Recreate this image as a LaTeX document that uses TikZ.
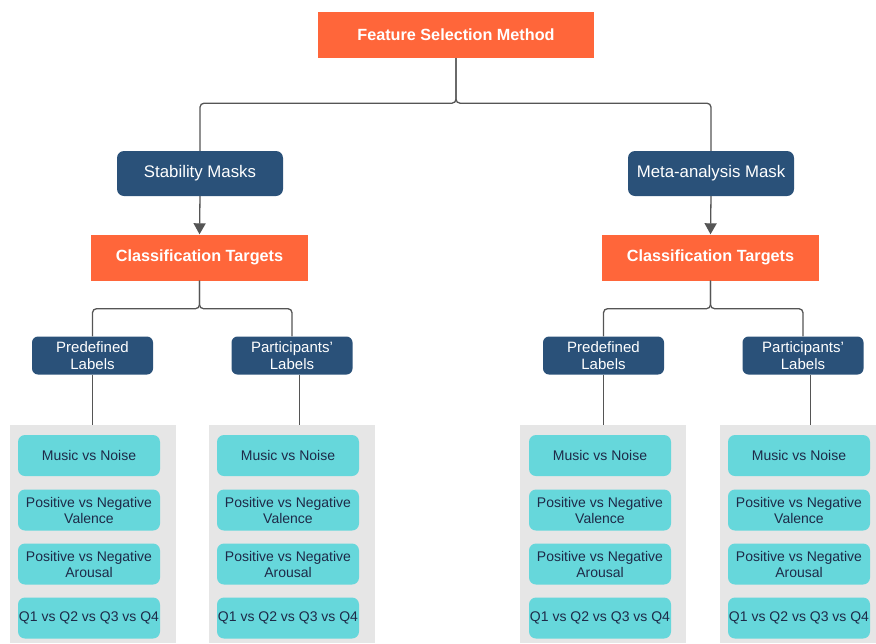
\documentclass[tikz,border=0pt]{standalone}
\usepackage{fontspec}
\setmainfont{Liberation Sans}
\usetikzlibrary{arrows.meta}
\definecolor{orng}{HTML}{FF663A}
\definecolor{navy}{HTML}{2A5179}
\definecolor{cyanb}{HTML}{66D7DB}
\definecolor{panelg}{HTML}{E6E6E6}
\definecolor{linec}{HTML}{555555}
\definecolor{txtd}{HTML}{1E2A48}
\begin{document}
\begin{tikzpicture}[x=1pt,y=-1pt,
  headbox/.style={fill=orng, text=white, font=\fontsize{16.2}{19}\selectfont\bfseries, minimum height=46pt, inner sep=0pt},
  maskbox/.style={fill=navy, text=white, font=\fontsize{16.8}{19}\selectfont, rounded corners=7pt, minimum width=166pt, minimum height=45pt, inner sep=0pt},
  labbox/.style={fill=navy, text=white, font=\fontsize{15}{16.5}\selectfont, align=center, rounded corners=6pt, minimum width=121pt, minimum height=38pt, inner sep=0pt},
  panelbox/.style={fill=panelg, minimum width=166pt, minimum height=218pt, inner sep=0pt},
  tgtbox/.style={fill=cyanb, text=txtd, font=\fontsize{14}{16}\selectfont, align=center, rounded corners=7pt, minimum width=142pt, minimum height=41pt, inner sep=0pt},
  conn/.style={draw=linec, line width=1.3pt, rounded corners=4pt},
  arr/.style={draw=linec, line width=1.3pt, -{Triangle[length=11pt,width=12pt]}, color=linec}
]
\useasboundingbox (0,0) rectangle (876,643);
\clip (0,0) rectangle (876,643);

% top
\node[headbox, minimum width=276pt] (fs) at (456,35) {Feature Selection Method};
\node[maskbox] (sm) at (200,173.5) {Stability Masks};
\node[maskbox] (ma) at (711,173.5) {Meta-analysis Mask};
\node[headbox, minimum width=217pt] (ctl) at (199.5,257.5) {Classification Targets};
\node[headbox, minimum width=217pt] (ctr) at (710.5,257.5) {Classification Targets};

% labels
\node[labbox] (pl1) at (92.5,355.5) {Predefined\\Labels};
\node[labbox] (pa1) at (292,355.5) {Participants\symbol{39}\\Labels};
\node[labbox] (pl2) at (603.5,355.5) {Predefined\\Labels};
\node[labbox] (pa2) at (803,355.5) {Participants\symbol{39}\\Labels};

% panels
\node[panelbox] (p1) at (93,534) {};
\node[panelbox] (p2) at (292,534) {};
\node[panelbox] (p3) at (603,534) {};
\node[panelbox] (p4) at (803,534) {};

% target boxes
\foreach \n/\cx in {a/89,b/288,c/600,d/799}{
  \node[tgtbox] (\n1) at (\cx,455.5) {Music vs Noise};
  \node[tgtbox] (\n2) at (\cx,510) {Positive vs Negative\\Valence};
  \node[tgtbox] (\n3) at (\cx,564) {Positive vs Negative\\Arousal};
  \node[tgtbox] (\n4) at (\cx,618) {Q1 vs Q2 vs Q3 vs Q4};
}

% connectors
\draw[conn] (fs.south) -- ++(0,45) -| (sm.north);
\draw[conn] (fs.south) -- ++(0,45) -| (ma.north);
\draw[arr] (sm.south) -- (ctl.north);
\draw[arr] (ma.south) -- (ctr.north);
\draw[conn] (ctl.south) -- ++(0,28) -| (pl1.north);
\draw[conn] (ctl.south) -- ++(0,28) -| (pa1.north);
\draw[conn] (ctr.south) -- ++(0,28) -| (pl2.north);
\draw[conn] (ctr.south) -- ++(0,28) -| (pa2.north);
\draw[conn] (pl1.south) -- (pl1.south |- p1.north);
\draw[conn] ([xshift=7.5pt]pa1.south) -- ([xshift=7.5pt]pa1.south |- p2.north);
\draw[conn] (pl2.south) -- (pl2.south |- p3.north);
\draw[conn] ([xshift=7.5pt]pa2.south) -- ([xshift=7.5pt]pa2.south |- p4.north);
\end{tikzpicture}
\end{document}
